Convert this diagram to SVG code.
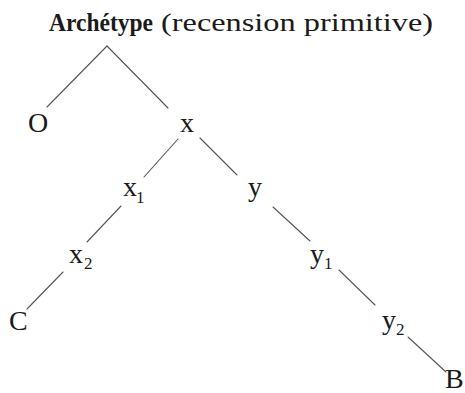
<svg xmlns="http://www.w3.org/2000/svg" width="465" height="393" viewBox="0 0 465 393">
<style>
.t{font-family:"Liberation Serif","Times New Roman",serif;fill:#1a1a1a}
.n{font-size:28px}
.s{font-size:17px}
.e{stroke:#555;stroke-width:1.1;fill:none;stroke-linecap:round}
</style>
<rect width="465" height="393" fill="#fff"/>
<g id="connectors">
<line class="e" x1="107" y1="46" x2="47" y2="107"/>
<line class="e" x1="107" y1="46" x2="168" y2="108"/>
<line class="e" x1="178" y1="139" x2="144" y2="177"/>
<line class="e" x1="200" y1="138" x2="237" y2="175"/>
<line class="e" x1="121" y1="206" x2="87" y2="242"/>
<line class="e" x1="273" y1="207" x2="310" y2="241"/>
<line class="e" x1="63" y1="272" x2="27" y2="309"/>
<line class="e" x1="339" y1="270" x2="375" y2="305"/>
<line class="e" x1="408" y1="337" x2="446" y2="372"/>
</g>
<g id="archetype">
<text class="t" x="49" y="31" font-size="25" font-weight="bold" textLength="104" lengthAdjust="spacingAndGlyphs">Archétype</text>
<text class="t" x="161" y="31" font-size="25" textLength="272" lengthAdjust="spacingAndGlyphs">(recension  primitive)</text>
</g>
<g id="O"><text class="t n" x="28" y="132">O</text></g>
<g id="x"><text class="t n" x="180" y="132">x</text></g>
<g id="x1"><text class="t n" x="123" y="196">x</text><text class="t s" x="136" y="203">1</text></g>
<g id="y"><text class="t n" x="248" y="196">y</text></g>
<g id="x2"><text class="t n" x="69" y="263">x</text><text class="t s" x="84" y="269">2</text></g>
<g id="y1"><text class="t n" x="310" y="263">y</text><text class="t s" x="324" y="269">1</text></g>
<g id="C"><text class="t n" x="9" y="330">C</text></g>
<g id="y2"><text class="t n" x="382" y="329">y</text><text class="t s" x="396" y="335">2</text></g>
<g id="B"><text class="t n" x="445" y="388">B</text></g>
</svg>
